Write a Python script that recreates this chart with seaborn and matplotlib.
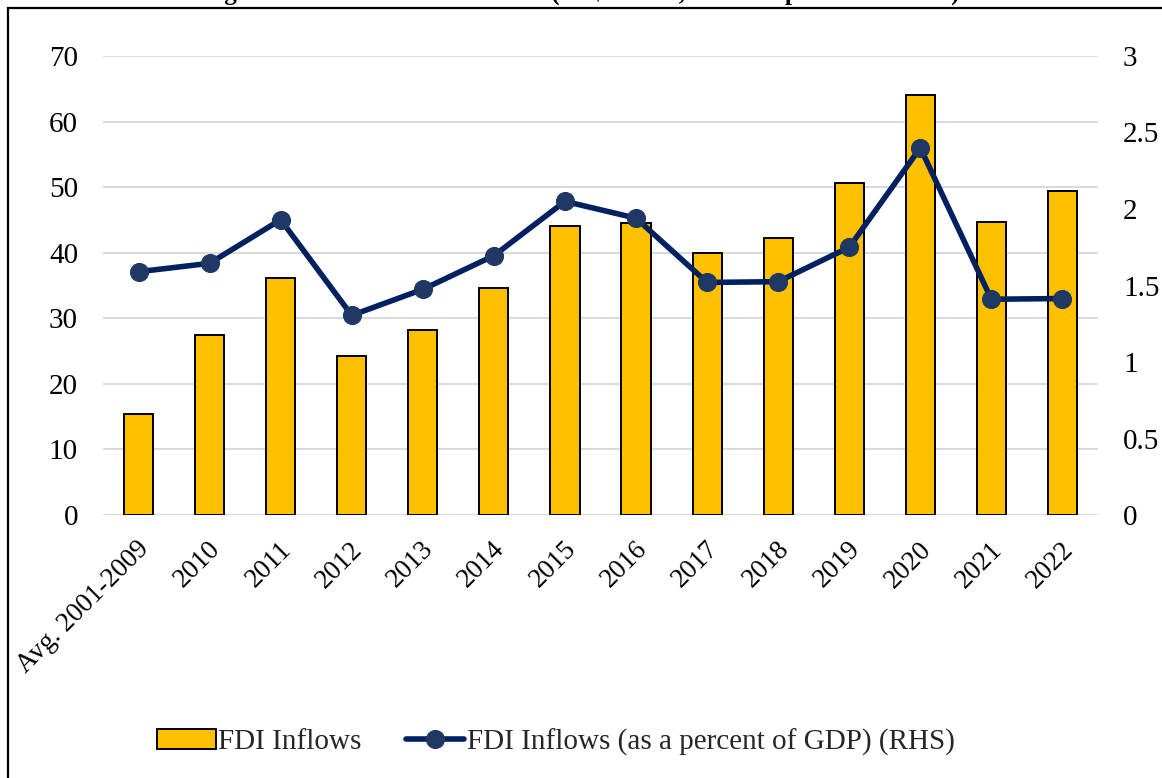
import numpy as np
import pandas as pd
import matplotlib
matplotlib.use("Agg")
import matplotlib.pyplot as plt
import matplotlib.transforms as mtransforms
from matplotlib.patches import Rectangle
import seaborn as sns

# --- data -------------------------------------------------------------
periods = ["Avg. 2001-2009", "2010", "2011", "2012", "2013", "2014", "2015",
           "2016", "2017", "2018", "2019", "2020", "2021", "2022"]
fdi_inflows = [15.4, 27.5, 36.2, 24.2, 28.2, 34.6, 44.1,
               44.5, 39.9, 42.2, 50.6, 64.1, 44.7, 49.4]          # US$ billion
fdi_pct_gdp = [1.59, 1.645, 1.93, 1.305, 1.475, 1.695, 2.05,
               1.94, 1.52, 1.525, 1.75, 2.40, 1.41, 1.415]         # % of GDP
left_ticks = [0, 10, 20, 30, 40, 50, 60, 70]
right_ticks = [0, 0.5, 1, 1.5, 2, 2.5, 3]
right_tick_labels = ["0", "0.5", "1", "1.5", "2", "2.5", "3"]

title = "Figure 5: FDI Inflows into India (US$ billion, and as a percent of GDP)"
bar_label = "FDI Inflows"
line_label = "FDI Inflows (as a percent of GDP) (RHS)"

df = pd.DataFrame({"period": periods, "fdi": fdi_inflows, "pct": fdi_pct_gdp})
df["pos"] = np.arange(len(df))

# --- style ------------------------------------------------------------
sns.set_style("white")
plt.rcParams["font.family"] = ["Liberation Serif", "DejaVu Serif"]
FS = 21
XFS = 19.5
BAR_COLOR = "#FFC000"
LINE_COLOR = "#002060"
MARKER_COLOR = "#203864"
GRID_COLOR = "#D9D9D9"

W, H = 1162, 778
fig = plt.figure(figsize=(W / 100, H / 100), dpi=100)
left, right, bottom, top = 103, 1098, 515, 56
ax = fig.add_axes([left / W, 1 - bottom / H, (right - left) / W, (bottom - top) / H])

# bars on the left axis
sns.barplot(data=df, x="period", y="fdi", color=BAR_COLOR, saturation=1,
            edgecolor="black", linewidth=1.4, width=0.41, ax=ax,
            label=bar_label, zorder=2)
ax.set_xlim(-0.5, len(periods) - 0.5)
ax.set_ylim(0, 70)
ax.set_yticks(left_ticks)
ax.set_yticklabels([str(t) for t in left_ticks])
ax.set_axisbelow(True)
ax.yaxis.grid(True, color=GRID_COLOR, linewidth=1.4)
ax.xaxis.grid(False)
ax.set_xlabel("")
ax.set_ylabel("")
for s in ax.spines.values():
    s.set_visible(False)
ax.tick_params(axis="y", length=0, pad=18, labelsize=FS, labelcolor="black")
ax.tick_params(axis="x", length=0, pad=22, labelsize=XFS, labelcolor="black")
offset = mtransforms.ScaledTranslation(7 / 100, 0, fig.dpi_scale_trans)
for lbl in ax.get_xticklabels():
    lbl.set_rotation(45)
    lbl.set_ha("right")
    lbl.set_va("center")
    lbl.set_rotation_mode("anchor")
    lbl.set_transform(lbl.get_transform() + offset)

# line on the right axis
ax2 = ax.twinx()
sns.lineplot(data=df, x="pos", y="pct", ax=ax2, color=LINE_COLOR, linewidth=4,
             marker="o", markersize=13, markerfacecolor=MARKER_COLOR,
             markeredgecolor=MARKER_COLOR, label=line_label, legend=False)
ax2.set_xlim(-0.5, len(periods) - 0.5)
ax2.set_ylim(0, 3)
ax2.set_yticks(right_ticks)
ax2.set_yticklabels(right_tick_labels)
ax2.set_xlabel("")
ax2.set_ylabel("")
ax2.grid(False)
for s in ax2.spines.values():
    s.set_visible(False)
ax2.tick_params(axis="y", length=0, pad=18, labelsize=FS, labelcolor="black")

if ax.get_legend() is not None:
    ax.get_legend().remove()

# legend below the plot
h1, l1 = ax.get_legend_handles_labels()
h2, l2 = ax2.get_legend_handles_labels()
fig.legend(h1 + h2, l1 + l2, loc="center", bbox_to_anchor=(556 / W, 1 - 742 / H),
           ncol=2, frameon=False, fontsize=FS, handlelength=2.0,
           handletextpad=0.1, columnspacing=1.5, borderpad=0)

# title and outer frame
fig.text(0.5, 1.0, title, ha="center", va="baseline", fontsize=18,
         fontweight="bold", color="black")
fig.add_artist(Rectangle((8 / W, -0.1), 1.2, (1 - 8 / H) + 0.1,
                         transform=fig.transFigure, fill=False,
                         edgecolor="black", linewidth=1.6))

fig.savefig("out.png", dpi=100)
